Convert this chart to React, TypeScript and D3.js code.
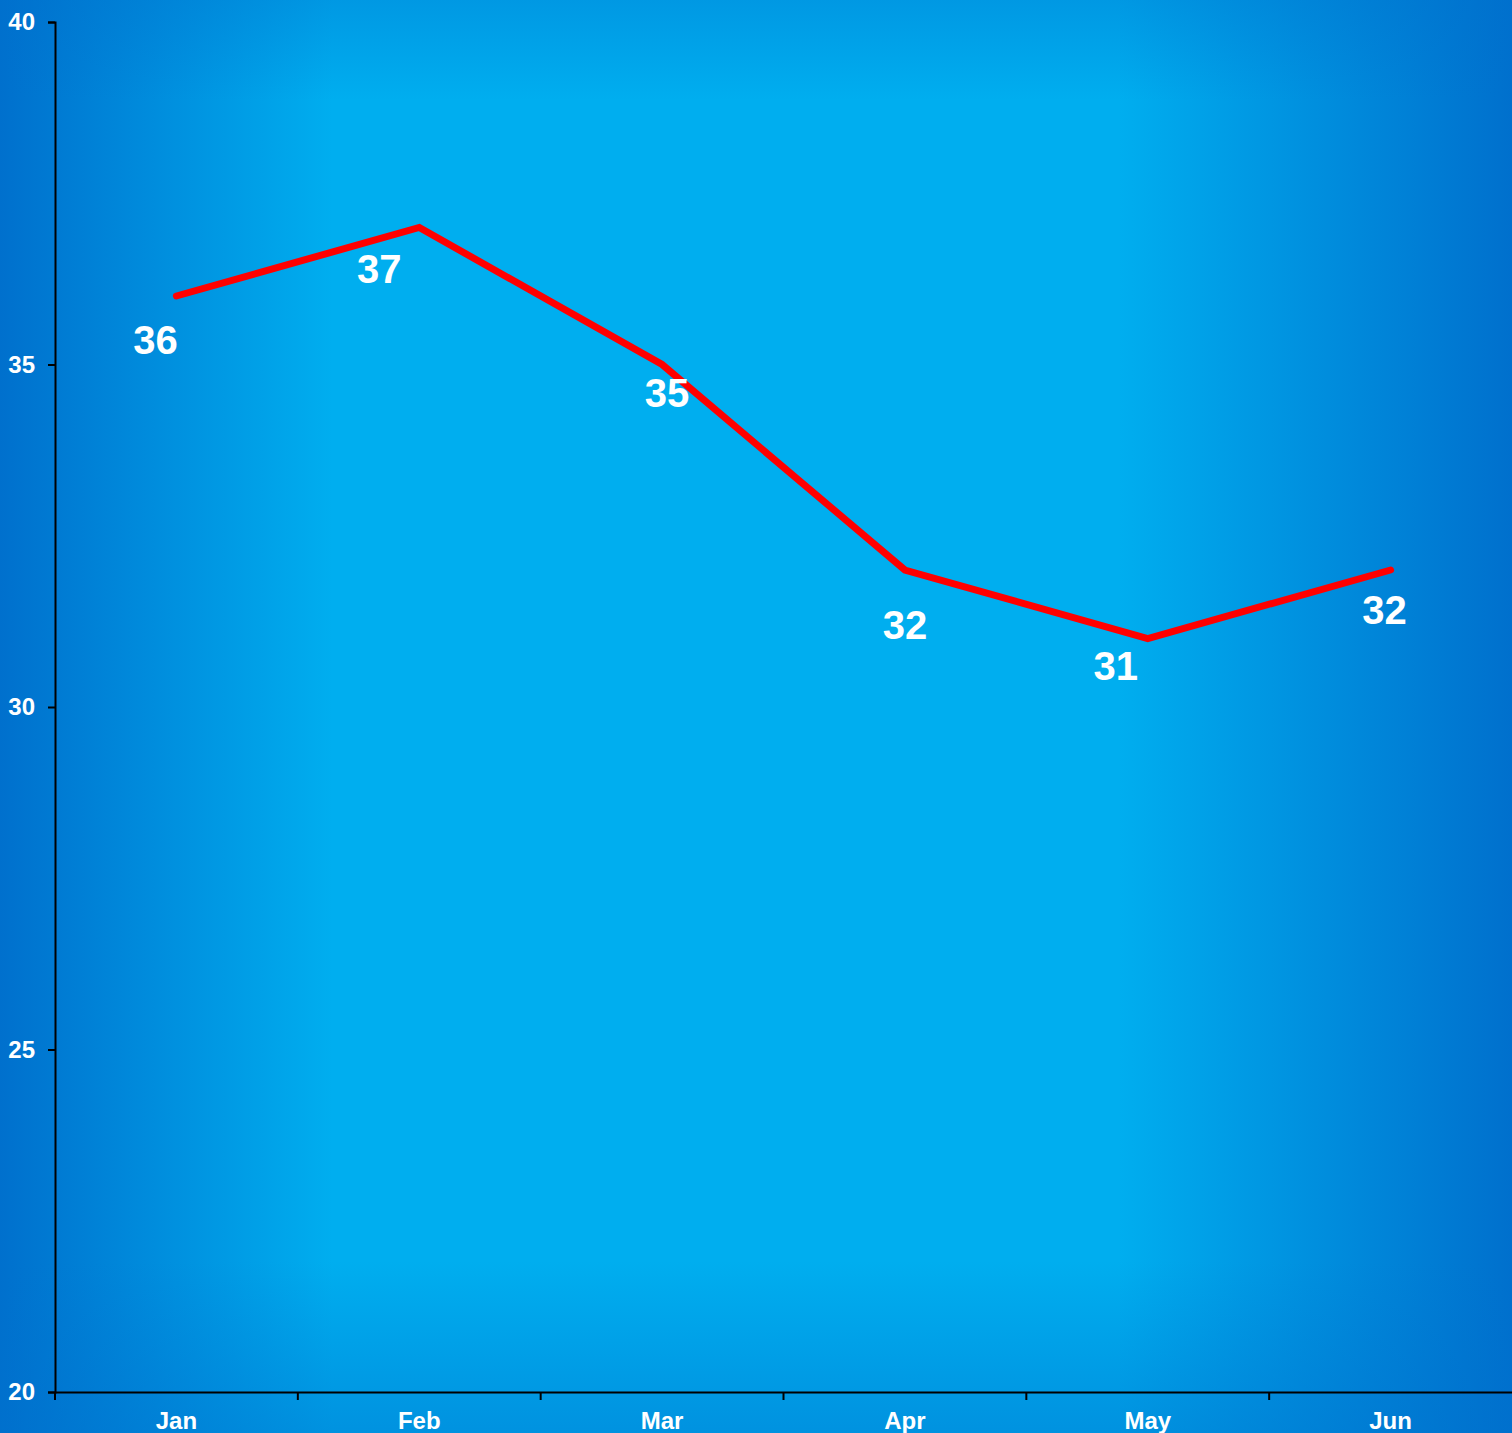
import * as d3 from "d3";
import { useRef, useEffect } from "react";

const months = ["Jan", "Feb", "Mar", "Apr", "May", "Jun"];
const temps = [36, 37, 35, 32, 31, 32];
const yTicks = [20, 25, 30, 35, 40];

// nudges for the value labels, relative to each point (as placed in the original)
const labelNudge = [
  [-21, 58],
  [-40, 55],
  [5, 42],
  [0, 69],
  [-32, 41],
  [-6, 54],
];

export default function App() {
  const width = 1512;
  const height = 1433;
  const marginTop = 22;
  const marginRight = 0;
  const marginBottom = 41;
  const marginLeft = 55;

  const gx = useRef<SVGGElement>(null);
  const gy = useRef<SVGGElement>(null);

  const x = d3
    .scaleBand()
    .domain(months)
    .range([marginLeft, width - marginRight]);

  const y = d3
    .scaleLinear()
    .domain([20, 40])
    .range([height - marginBottom, marginTop]);

  const cx = (m: string) => (x(m) ?? 0) + x.bandwidth() / 2;

  const line = d3
    .line<number>()
    .x((_, i) => cx(months[i]))
    .y((d) => y(d));

  useEffect(() => {
    const ax = d3.select(gx.current!);
    ax.call(d3.axisBottom(x).tickSize(0).tickPadding(0));
    ax.selectAll(".tick text").remove();
    ax.selectAll(".tick line").remove();
    // ticks at band boundaries
    const edges = months.map((m) => x(m) ?? 0);
    ax.selectAll("line.edge")
      .data(edges)
      .join("line")
      .attr("class", "edge")
      .attr("x1", (d) => d)
      .attr("x2", (d) => d)
      .attr("y1", 0)
      .attr("y2", 8)
      .attr("stroke", "#000")
      .attr("stroke-width", 2);
    ax.selectAll("text.cat")
      .data(months)
      .join("text")
      .attr("class", "cat")
      .attr("x", (d) => cx(d))
      .attr("y", 37)
      .attr("text-anchor", "middle")
      .attr("fill", "#fff")
      .attr("font-size", 24)
      .attr("font-weight", "bold")
      .attr("font-family", "Liberation Sans, Arial, sans-serif")
      .text((d) => d);
    ax.select(".domain").attr("stroke", "#000").attr("stroke-width", 2);
  }, [gx, x]);

  useEffect(() => {
    const ay = d3.select(gy.current!);
    ay.call(d3.axisLeft(y).tickValues(yTicks).tickSize(7).tickPadding(13));
    ay.select(".domain").attr("stroke", "#000").attr("stroke-width", 2);
    ay.selectAll(".tick line").attr("stroke", "#000").attr("stroke-width", 2);
    ay.selectAll(".tick text")
      .attr("fill", "#fff")
      .attr("font-size", 24)
      .attr("font-weight", "bold")
      .attr("font-family", "Liberation Sans, Arial, sans-serif");
  }, [gy, y]);

  return (
    <svg
      width={width}
      height={height}
      style={{ position: "absolute", left: 0, top: 0 }}
    >
      <defs>
        <linearGradient id="bgH" x1="0" x2="1" y1="0" y2="0">
          <stop offset="0" stopColor="#0070cd" />
          <stop offset="0.22" stopColor="#00aeef" />
          <stop offset="0.74" stopColor="#00aeef" />
          <stop offset="1" stopColor="#0070cd" />
        </linearGradient>
        <linearGradient id="bgV" x1="0" x2="0" y1="0" y2="1">
          <stop offset="0" stopColor="#0070cd" stopOpacity="0.35" />
          <stop offset="0.07" stopColor="#0070cd" stopOpacity="0" />
          <stop offset="0.88" stopColor="#0070cd" stopOpacity="0" />
          <stop offset="1" stopColor="#0070cd" stopOpacity="0.45" />
        </linearGradient>
      </defs>
      <rect width={width} height={height} fill="url(#bgH)" />
      <rect width={width} height={height} fill="url(#bgV)" />
      <g ref={gx} transform={`translate(0,${height - marginBottom})`} />
      <g ref={gy} transform={`translate(${marginLeft},0)`} />
      <path
        fill="none"
        stroke="#ff0000"
        strokeWidth={7}
        strokeLinecap="round"
        strokeLinejoin="miter"
        d={line(temps) ?? ""}
      />
      <g
        fill="#fff"
        fontSize={40}
        fontWeight="bold"
        fontFamily="Liberation Sans, Arial, sans-serif"
        textAnchor="middle"
      >
        {temps.map((d, i) => (
          <text
            key={i}
            x={cx(months[i]) + labelNudge[i][0]}
            y={y(d) + labelNudge[i][1]}
          >
            {d}
          </text>
        ))}
      </g>
    </svg>
  );
}
